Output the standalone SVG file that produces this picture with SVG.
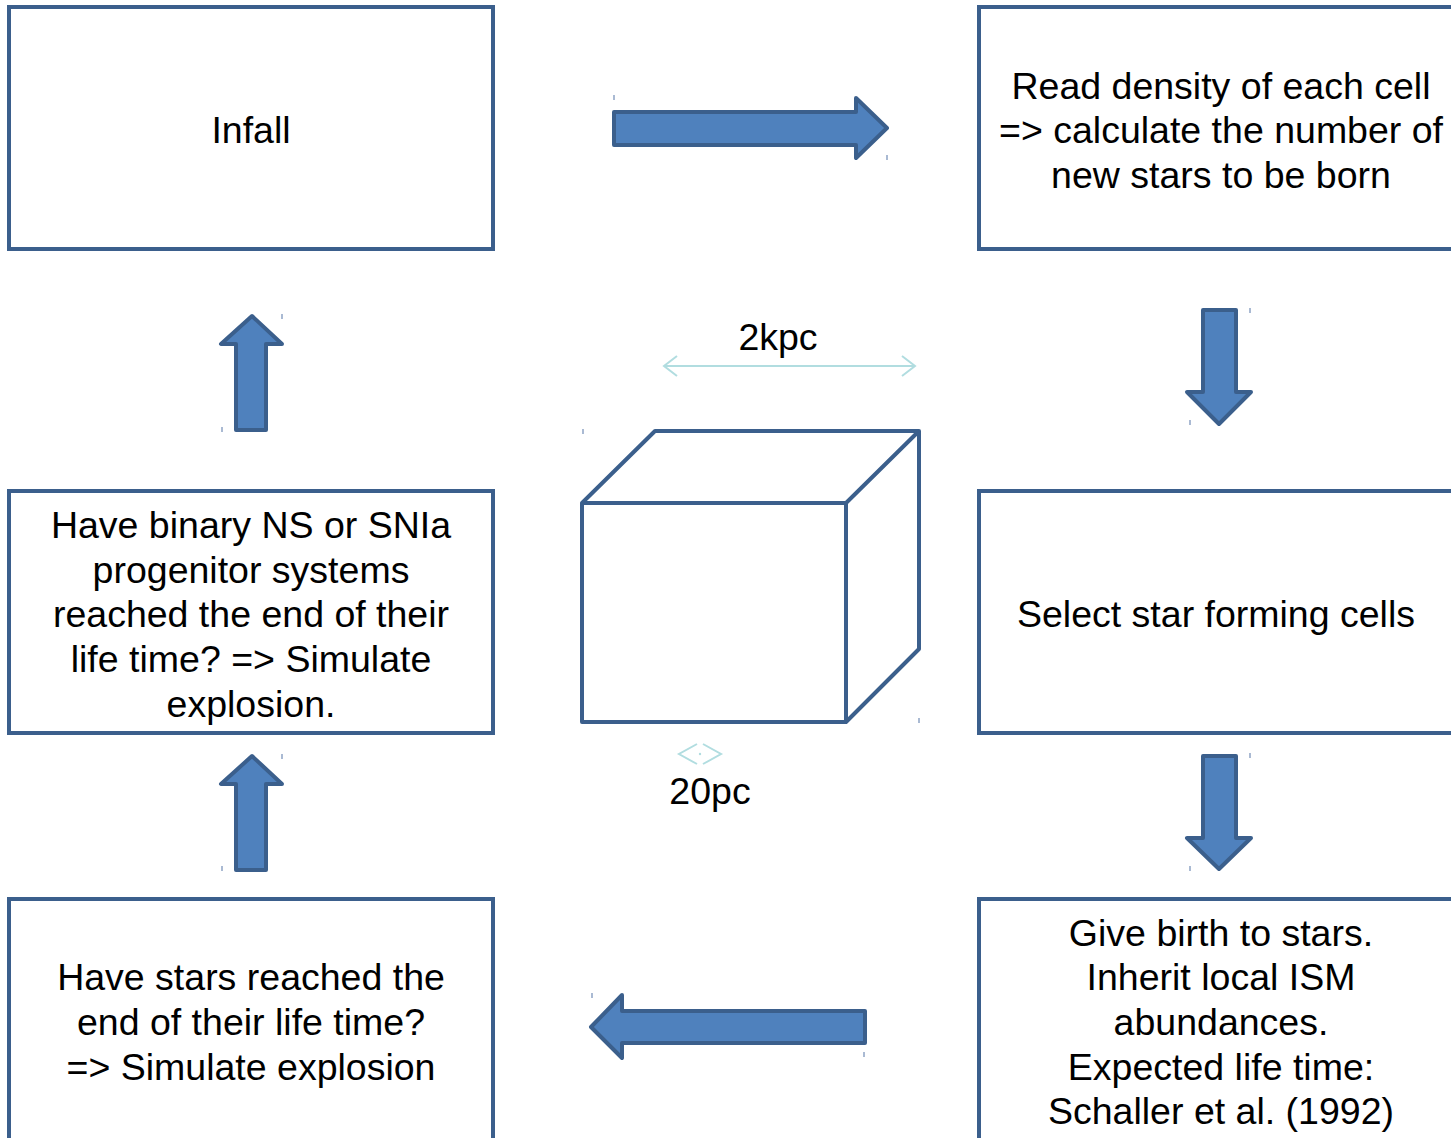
<svg xmlns="http://www.w3.org/2000/svg" width="1451" height="1138" viewBox="0 0 1451 1138">
<style>
.box{fill:#fff;stroke:#3b5f8c;stroke-width:4}
.arr{fill:#4f81bd;stroke:#3b5f8c;stroke-width:4;stroke-linejoin:round}
.t{font-family:"Liberation Sans",Arial,sans-serif;font-size:37.5px;fill:#000;text-anchor:middle}
.dim{fill:none;stroke:#b1dde0;stroke-width:2}
.tick{stroke:#8ea3c4;stroke-width:1.5}
</style>
<rect width="1451" height="1138" fill="#fff"/>
<g id="infall"><rect class="box" x="9" y="7" width="484" height="242"/><text class="t" x="251" y="143">Infall</text></g>
<g id="read-density"><rect class="box" x="979" y="7" width="490" height="242"/><text class="t" x="1221" y="99">Read density of each cell</text><text class="t" x="1221" y="143">=&gt; calculate the number of</text><text class="t" x="1221" y="188">new stars to be born</text></g>
<g id="select-cells"><rect class="box" x="979" y="491" width="490" height="242"/><text class="t" x="1216" y="627">Select star forming cells</text></g>
<g id="give-birth"><rect class="box" x="979" y="899" width="490" height="260"/><text class="t" x="1221" y="946">Give birth to stars.</text><text class="t" x="1221" y="990">Inherit local ISM</text><text class="t" x="1221" y="1035">abundances.</text><text class="t" x="1221" y="1080">Expected life time:</text><text class="t" x="1221" y="1124">Schaller et al. (1992)</text></g>
<g id="stars-end"><rect class="box" x="9" y="899" width="484" height="260"/><text class="t" x="251" y="990">Have stars reached the</text><text class="t" x="251" y="1035">end of their life time?</text><text class="t" x="251" y="1080">=&gt; Simulate explosion</text></g>
<g id="binary-ns"><rect class="box" x="9" y="491" width="484" height="242"/><text class="t" x="251" y="538">Have binary NS or SNIa</text><text class="t" x="251" y="583">progenitor systems</text><text class="t" x="251" y="627">reached the end of their</text><text class="t" x="251" y="672">life time? =&gt; Simulate</text><text class="t" x="251" y="717">explosion.</text></g>
<g id="cube">
<path d="M582,503 L655,431 L919,431 L919,649 L846,722 L582,722 Z M582,503 L846,503 L846,722 M846,503 L919,431" fill="#fff" stroke="#3b5f8c" stroke-width="4" stroke-linejoin="round"/>
</g>
<g id="scale-2kpc"><line class="dim" x1="664" y1="366" x2="915" y2="366"/><polyline class="dim" stroke-width="3.5" points="677,356 664,366 677,376"/><polyline class="dim" stroke-width="3.5" points="902,356 915,366 902,376"/><text class="t" x="778" y="350">2kpc</text></g>
<g id="scale-20pc"><polyline class="dim" stroke-width="3.5" points="697,744 679,754 697,764"/><polyline class="dim" stroke-width="3.5" points="703,744 721,754 703,764"/><circle cx="700" cy="754" r="1.2" fill="#b1dde0"/><text class="t" x="710" y="804">20pc</text></g>
<g id="connectors">
<path class="arr" d="M614,112 L856,112 L856,98 L887,128 L856,158 L856,145 L614,145 Z"/>
<path class="arr" d="M1203,310 L1236,310 L1236,392 L1251,392 L1219,424 L1187,392 L1203,392 Z"/>
<path class="arr" d="M1203,756 L1236,756 L1236,838 L1251,838 L1219,869 L1187,838 L1203,838 Z"/>
<path class="arr" d="M865,1011 L622,1011 L622,995 L591,1027 L622,1058 L622,1043 L865,1043 Z"/>
<path class="arr" d="M236,870 L266,870 L266,784 L282,784 L252,756 L221,784 L236,784 Z"/>
<path class="arr" d="M236,430 L266,430 L266,344 L282,344 L252,316 L221,344 L236,344 Z"/>
</g>
<g id="handles">
<line class="tick" x1="614" y1="95" x2="614" y2="100"/><line class="tick" x1="887" y1="155" x2="887" y2="160"/>
<line class="tick" x1="282" y1="314" x2="282" y2="319"/><line class="tick" x1="222" y1="427" x2="222" y2="432"/>
<line class="tick" x1="282" y1="754" x2="282" y2="759"/><line class="tick" x1="222" y1="866" x2="222" y2="871"/>
<line class="tick" x1="1250" y1="308" x2="1250" y2="313"/><line class="tick" x1="1190" y1="420" x2="1190" y2="425"/>
<line class="tick" x1="1250" y1="753" x2="1250" y2="758"/><line class="tick" x1="1190" y1="866" x2="1190" y2="871"/>
<line class="tick" x1="583" y1="429" x2="583" y2="434"/><line class="tick" x1="919" y1="718" x2="919" y2="723"/>
<line class="tick" x1="592" y1="993" x2="592" y2="998"/><line class="tick" x1="864" y1="1052" x2="864" y2="1057"/>
</g>
</svg>
